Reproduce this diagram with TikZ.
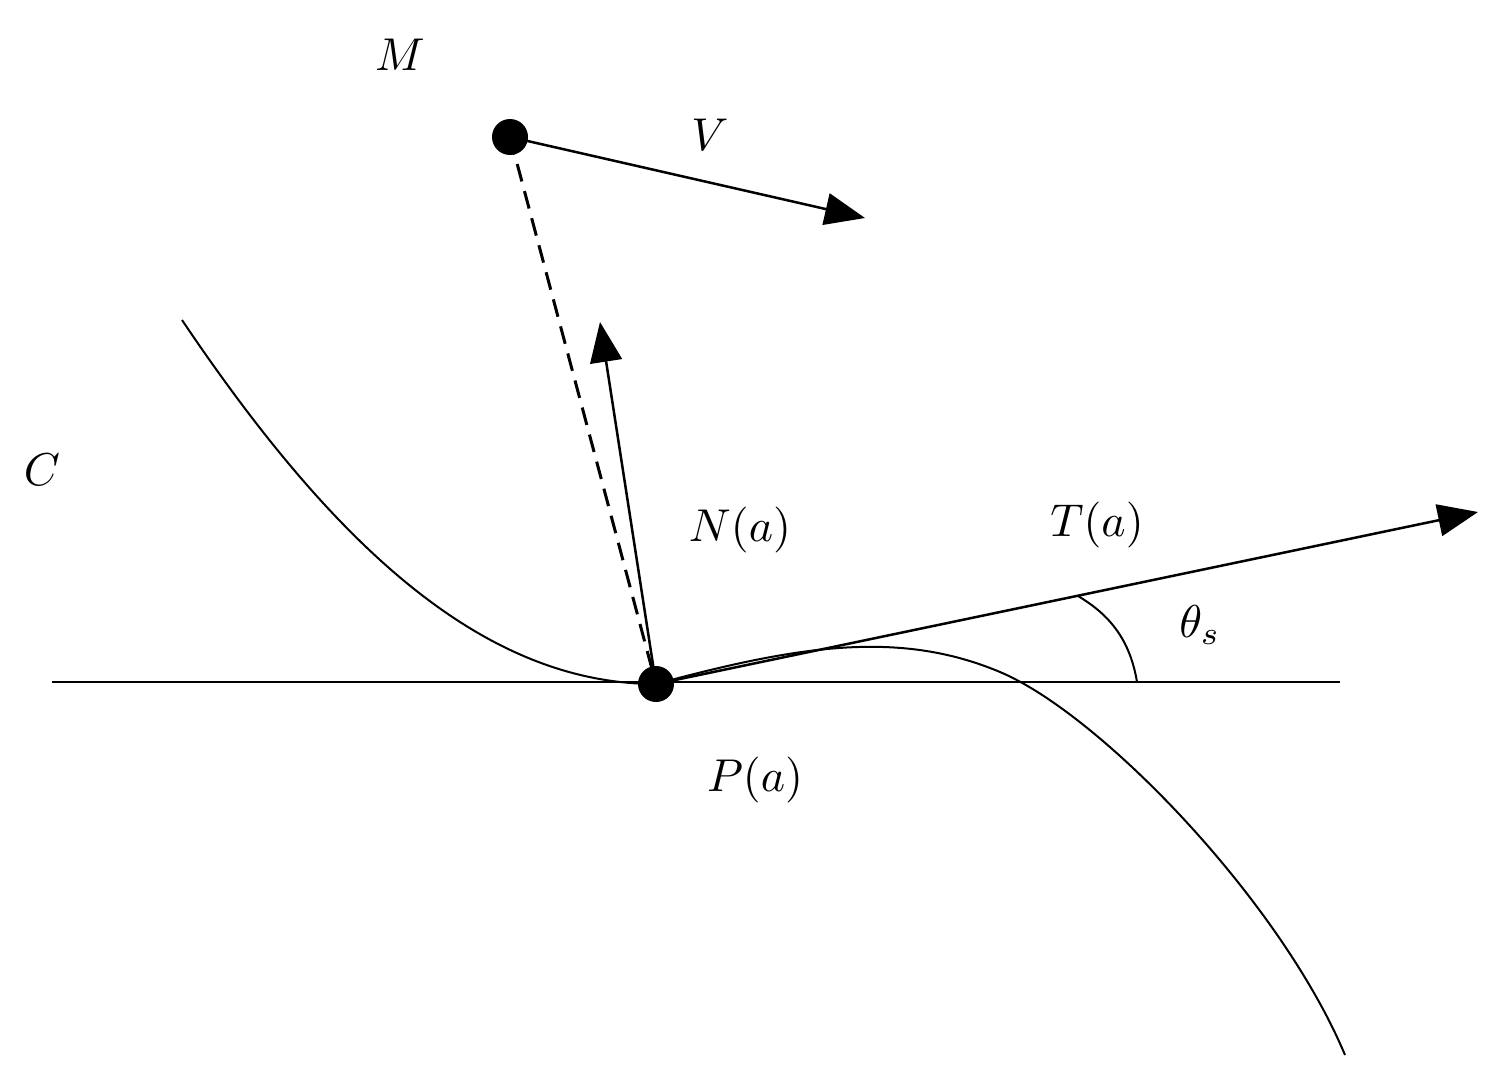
\documentclass[tikz,border=0pt]{standalone}
\usetikzlibrary{arrows.meta}
\begin{document}
\begin{tikzpicture}[x=1pt,y=-1pt,
  ln/.style={line width=2pt},
  vec/.style={line width=2.5pt,-{Triangle[length=40pt,width=32pt]}},
  lbl/.style={scale=4.6},
  dotc/.style={circle,fill=black,inner sep=0pt,minimum size=36pt}]
\useasboundingbox (0,0) rectangle (1501,1084);
\node[dotc] (M) at (510,137) {};
\node[dotc] (P) at (656,684) {};
\coordinate (Ve) at (865,218);
\coordinate (Ne) at (600,322);
\coordinate (Te) at (1478,512);
\coordinate (L1) at (52,682);
\coordinate (L2) at (1340,682);
\draw[ln] (L1) -- (L2);
\draw[ln] (182,320) .. controls (330,540) and (480,684) .. (P.center)
  .. controls (800,645) and (900,630) .. (1000,672)
  .. controls (1100,714) and (1280,900) .. (1345,1055);
\draw[ln,dash pattern=on 18pt off 10pt,line width=3pt] (M.center) -- (P.center);
\draw[vec] (M.center) -- (Ve);
\draw[vec] (P.center) -- (Ne);
\draw[vec] (P.center) -- (Te);
\draw[ln] (1137,682) .. controls (1130,640) and (1110,615) .. (1078,596);
\node[lbl] (lM) at (400,55) {$M$};
\node[lbl] (lV) at (710,135) {$V$};
\node[lbl] (lC) at (42,470) {$C$};
\node[lbl] (lN) at (740,530) {$N(a)$};
\node[lbl] (lT) at (1097,525) {$T(a)$};
\node[lbl] (lP) at (755,780) {$P(a)$};
\node[lbl] (lth) at (1200,625) {$\theta_s$};
\end{tikzpicture}
\end{document}
